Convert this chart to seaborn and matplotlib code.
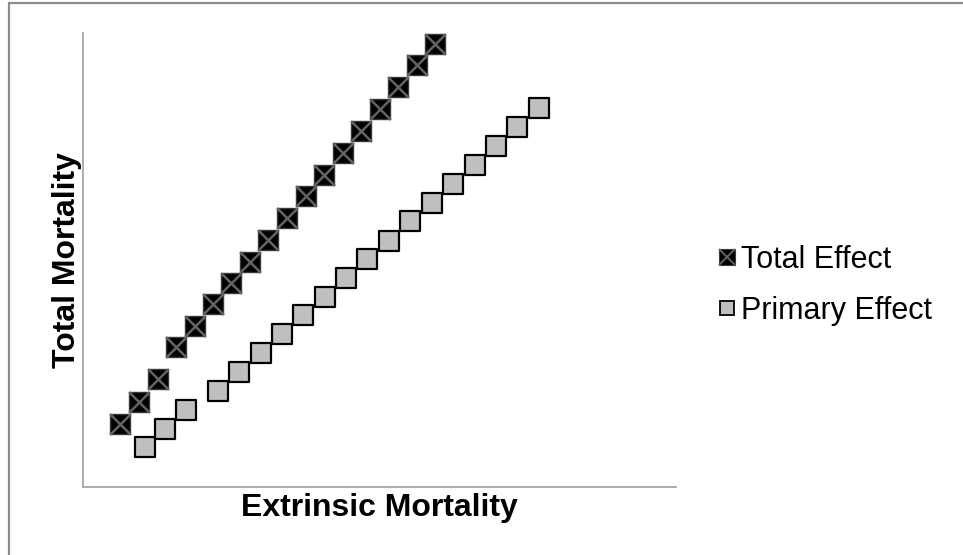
import numpy as np
import seaborn as sns
import matplotlib.pyplot as plt
from matplotlib.lines import Line2D
from matplotlib.legend_handler import HandlerTuple

sns.set_style("white")
plt.rcParams['font.family'] = ['Liberation Sans', 'DejaVu Sans']
plt.rcParams['text.color'] = 'black'
plt.rcParams['axes.labelcolor'] = 'black'

# values (arbitrary units, axis 0..1)
total_x = [0.062, 0.094, 0.126, 0.157, 0.189, 0.219, 0.250, 0.282, 0.312,
           0.344, 0.376, 0.407, 0.438, 0.469, 0.501, 0.531, 0.563, 0.594]
total_y = [0.139, 0.187, 0.238, 0.308, 0.355, 0.403, 0.449, 0.496, 0.544,
           0.593, 0.641, 0.687, 0.736, 0.784, 0.833, 0.881, 0.930, 0.976]
primary_x = [0.105, 0.138, 0.174, 0.228, 0.263, 0.300, 0.336, 0.371, 0.408, 0.444,
             0.479, 0.516, 0.551, 0.589, 0.624, 0.661, 0.696, 0.732, 0.769]
primary_y = [0.088, 0.128, 0.170, 0.211, 0.253, 0.295, 0.337, 0.379, 0.419, 0.460,
             0.502, 0.542, 0.586, 0.626, 0.667, 0.709, 0.751, 0.793, 0.835]
series_names = ["Total Effect", "Primary Effect"]

fig = plt.figure(figsize=(9.63, 5.55), dpi=100)
ax = fig.add_axes([0.0862, 0.1225, 0.6158, 0.818])

# primary effect: light gray squares with black edge
sns.scatterplot(x=primary_x, y=primary_y, ax=ax, marker='s', s=190,
                color='#bfbfbf', edgecolor='black', linewidth=1.6, zorder=3)
# total effect: black squares with a gray cross on top
sns.scatterplot(x=total_x, y=total_y, ax=ax, marker='s', s=225,
                color='black', edgecolor='#3a3a3a', linewidth=1.0, zorder=4)
ax.scatter(total_x, total_y, marker='x', s=225, color='#636363',
           linewidths=1.8, zorder=5)

ax.set_xlim(0, 1)
ax.set_ylim(0, 1)
ax.set_xticks([])
ax.set_yticks([])
for side in ['top', 'right']:
    ax.spines[side].set_visible(False)
for side in ['left', 'bottom']:
    ax.spines[side].set_color('#a6a6a6')
    ax.spines[side].set_linewidth(1.3)

ax.set_xlabel("Extrinsic Mortality", fontsize=23, fontweight='bold', labelpad=4)
ax.set_ylabel("Total Mortality", fontsize=23, fontweight='bold', labelpad=1)

# legend
h_sq = Line2D([], [], ls='', marker='s', markersize=11, markerfacecolor='black',
              markeredgecolor='#3a3a3a', markeredgewidth=0.8)
h_x = Line2D([], [], ls='', marker='x', markersize=11, markeredgecolor='#636363',
             markeredgewidth=1.4)
h_gray = Line2D([], [], ls='', marker='s', markersize=10.5, markerfacecolor='#bfbfbf',
                markeredgecolor='black', markeredgewidth=1.3)
fig.legend([(h_sq, h_x), h_gray], series_names, loc='center left',
           bbox_to_anchor=(0.717, 0.486), frameon=False, fontsize=22,
           handler_map={tuple: HandlerTuple(ndivide=1)},
           handlelength=0.6, handletextpad=0.15, labelspacing=0.68)

# outer frame lines (top and left only)
fig.add_artist(Line2D([0.009, 1.0], [0.994, 0.994], transform=fig.transFigure,
                      color='#8c8c8c', lw=1.6))
fig.add_artist(Line2D([0.009, 0.009], [0.0, 0.994], transform=fig.transFigure,
                      color='#8c8c8c', lw=1.6))

fig.savefig("out.png", dpi=100)
